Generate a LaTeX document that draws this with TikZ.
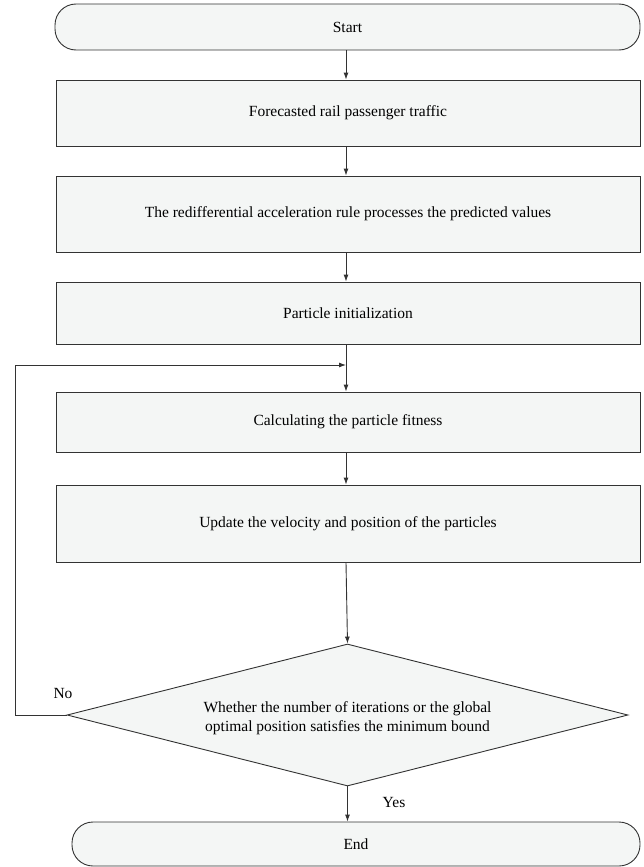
\documentclass[tikz,border=0pt]{standalone}
\usepackage{fontspec}
\setmainfont{Liberation Serif}
\usetikzlibrary{shapes.geometric,arrows.meta}
\definecolor{boxfill}{HTML}{F4F6F5}
\definecolor{linec}{HTML}{333333}
\begin{document}
\begin{tikzpicture}[x=1pt,y=-1pt,
  every node/.style={font=\fontsize{15.5}{19}\selectfont, text=black},
  procbox/.style={draw=linec, fill=boxfill, line width=0.9pt, minimum width=584pt, inner sep=0pt},
  termbox/.style={draw=linec, fill=boxfill, line width=0.9pt, rounded corners=21pt, inner sep=0pt},
  decbox/.style={draw=linec, fill=boxfill, line width=0.9pt, diamond, inner sep=0pt, minimum width=561pt, minimum height=142pt, aspect=3.95},
  conn/.style={draw=linec, line width=0.9pt, -{Latex[length=7pt,width=5pt]}},
  plain/.style={draw=linec, line width=0.9pt},
  lbl/.style={font=\fontsize{15.5}{19}\selectfont}]
\useasboundingbox (0,0) rectangle (644,867);
\node[termbox, minimum width=585pt, minimum height=46pt] (start) at (347.5,27) {Start};
\node[procbox, minimum height=66pt] (b1) at (348,113) {Forecasted rail passenger traffic};
\node[procbox, minimum height=76pt] (b2) at (348,214) {The redifferential acceleration rule processes the predicted values};
\node[procbox, minimum height=62pt] (b3) at (348,313) {Particle initialization};
\node[procbox, minimum height=60pt] (b4) at (348,422) {Calculating the particle fitness};
\node[procbox, minimum height=77pt] (b5) at (348,523.5) {Update the velocity and position of the particles};
\node[decbox] (dia) at (347.5,715) {};
\node[align=center, lbl] (diat) at (347.5,718) {Whether the number of iterations or the global\\optimal position satisfies the minimum bound};
\node[termbox, minimum width=568pt, minimum height=44pt] (end) at (356,844) {End};
\node[lbl] (no) at (63,693) {No};
\node[lbl] (yes) at (394,802) {Yes};
\coordinate (fb) at (346,365);
\coordinate (fbl) at (15,715);
\draw[conn] (start.south -| fb) -- (b1.north -| fb);
\draw[conn] (b1.south -| fb) -- (b2.north -| fb);
\draw[conn] (b2.south -| fb) -- (b3.north -| fb);
\draw[conn] (b3.south -| fb) -- (b4.north -| fb);
\draw[conn] (b4.south -| fb) -- (b5.north -| fb);
\draw[conn] (b5.south -| fb) -- (dia.north);
\draw[conn] (dia.south) -- (end.north -| dia.south);
\draw[plain] (dia.west) -- (fbl);
\draw[conn] (fbl) |- (fb);
\end{tikzpicture}
\end{document}
